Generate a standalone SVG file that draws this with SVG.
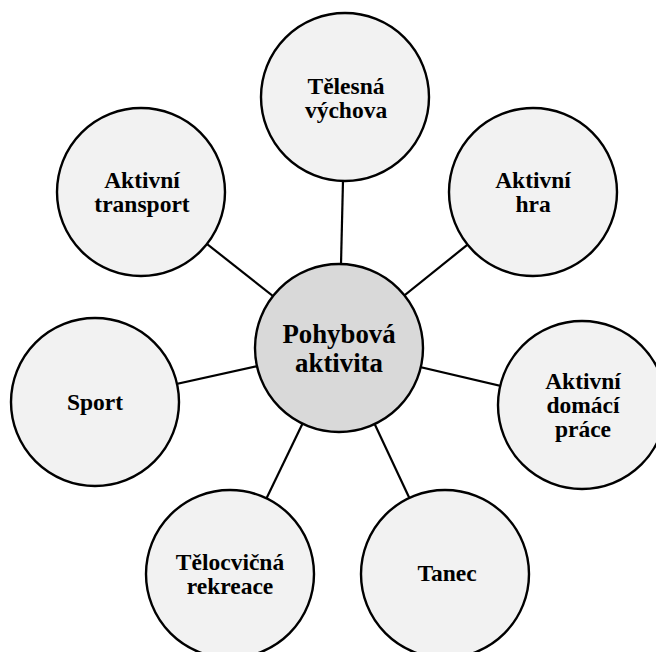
<svg xmlns="http://www.w3.org/2000/svg" width="656" height="652" viewBox="0 0 656 652">
<style>
.node circle{fill:#f2f2f2;stroke:#000;stroke-width:2.4}
#center circle{fill:#d9d9d9}
text{font-family:"Liberation Serif","Times New Roman",serif;font-weight:bold;font-size:23.5px;fill:#000;text-anchor:middle}
#center text{font-size:26.8px}
.conn line{stroke:#000;stroke-width:2.2}
</style>
<rect width="656" height="652" fill="#fff"/>
<g class="conn" id="connectors">
<line x1="339" y1="348" x2="345" y2="97"/>
<line x1="339" y1="348" x2="533" y2="192"/>
<line x1="339" y1="348" x2="582" y2="405"/>
<line x1="339" y1="348" x2="445" y2="574"/>
<line x1="339" y1="348" x2="230" y2="574"/>
<line x1="339" y1="348" x2="95" y2="402"/>
<line x1="339" y1="348" x2="141" y2="192"/>
</g>
<g class="node" id="telesna">
<circle cx="345" cy="97" r="84"/>
<text x="346" y="94">Tělesná</text>
<text x="346" y="118">výchova</text>
</g>
<g class="node" id="hra">
<circle cx="533" cy="192" r="84"/>
<text x="533" y="188">Aktivní</text>
<text x="533" y="212">hra</text>
</g>
<g class="node" id="domaci">
<circle cx="582" cy="405" r="84"/>
<text x="583" y="389">Aktivní</text>
<text x="583" y="413">domácí</text>
<text x="583" y="437">práce</text>
</g>
<g class="node" id="tanec">
<circle cx="445" cy="574" r="84"/>
<text x="447" y="581">Tanec</text>
</g>
<g class="node" id="telocvicna">
<circle cx="230" cy="574" r="84"/>
<text x="230" y="570">Tělocvičná</text>
<text x="230" y="594">rekreace</text>
</g>
<g class="node" id="sport">
<circle cx="95" cy="402" r="84"/>
<text x="95" y="410">Sport</text>
</g>
<g class="node" id="transport">
<circle cx="141" cy="192" r="84"/>
<text x="142" y="188">Aktivní</text>
<text x="142" y="212">transport</text>
</g>
<g class="node" id="center">
<circle cx="339" cy="348" r="84"/>
<text x="339" y="343">Pohybová</text>
<text x="339" y="372">aktivita</text>
</g>
</svg>
